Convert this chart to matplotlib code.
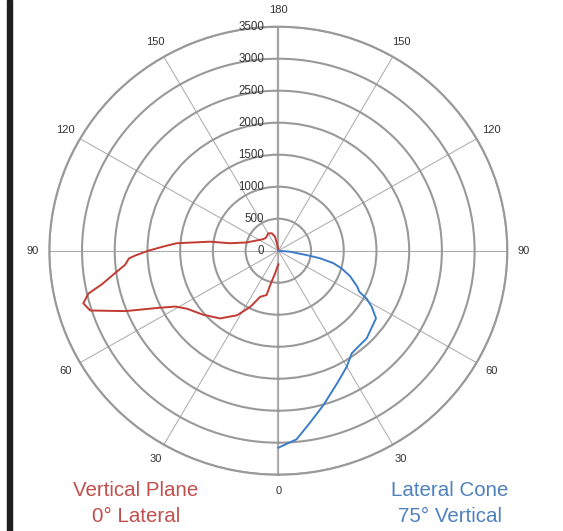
import numpy as np
import matplotlib.pyplot as plt
from matplotlib.patches import Rectangle

plt.rcParams['font.family'] = ['Liberation Sans', 'DejaVu Sans']

# Vertical Plane (0° Lateral), drawn on the left half
red_ang = [0, 8, 13, 14.5, 21, 26, 32, 37, 40, 49, 57, 61, 64, 68, 72, 74.6,
           77, 79, 82, 84.6, 87, 88, 90, 92.4, 94.3, 97.7, 99, 105, 128, 137,
           150, 160, 167, 172, 180]
red_val = [212, 357, 551, 715, 771, 976, 1189, 1298, 1382, 1524, 1664, 1800,
           2036, 2519, 3023, 3092, 2979, 2747, 2521, 2353, 2285, 2191, 1987,
           1733, 1557, 1054, 747, 500, 293, 277, 312, 290, 224, 70, 0]

# Lateral Cone (75° Vertical), drawn on the right half
blue_ang = [90, 85, 81, 79.5, 77, 74, 70, 65, 62.6, 61, 58.5, 54.7, 44.6, 39,
            35, 30, 24, 16, 10, 5.4, 0]
blue_val = [0, 180, 439, 648, 863, 1007, 1169, 1332, 1394, 1542, 1674, 1829,
            1923, 1935, 1957, 2092, 2243, 2507, 2740, 2960, 3078]

r_ticks = [0, 500, 1000, 1500, 2000, 2500, 3000, 3500]
theta_ticks = list(range(0, 360, 30))
theta_labels = ['0', '30', '60', '90', '120', '150', '180',
                '150', '120', '90', '60', '30']

red_line = '#C23B33'
blue_line = '#3D7CC9'
red_text = '#C0504D'
blue_text = '#4F81BD'

fig = plt.figure(figsize=(5.63, 5.31), dpi=100)
ax = fig.add_axes([0.0876, 0.106, 0.8135, 0.8437], projection='polar')
ax.set_aspect('auto')
ax.set_theta_zero_location('S')
ax.set_theta_direction(1)
ax.set_ylim(0, 3500)

ax.set_xticks(np.radians(theta_ticks))
ax.set_xticklabels(theta_labels, fontsize=8, color='#333333')
ax.tick_params(axis='x', pad=1.5)
ax.set_yticks(r_ticks)
ax.set_yticklabels([])

ax.xaxis.grid(True, color='#a8a8a8', lw=0.7)
ax.yaxis.grid(True, color='#999999', lw=1.5)
ax.spines['polar'].set_color('#999999')
ax.spines['polar'].set_linewidth(1.5)

# thicker vertical axis line 0-180
ax.plot([0, 0], [0, 3500], color='#b4b4b4', lw=1.6, zorder=1)
ax.plot([np.pi, np.pi], [0, 3500], color='#a0a0a0', lw=1.6, zorder=1)

for r in r_ticks:
    ax.annotate(str(r), xy=(np.pi, r), xytext=(-10, 0),
                textcoords='offset points', ha='right', va='center',
                fontsize=8.3, color='#333333', annotation_clip=False)

ax.plot(-np.radians(red_ang), red_val, color=red_line, lw=1.4, zorder=3)
ax.plot(np.radians(blue_ang), blue_val, color=blue_line, lw=1.4, zorder=3)

fig.text(136 / 563, 1 - 490 / 531, 'Vertical Plane', color=red_text,
         fontsize=14.8, ha='center', va='center')
fig.text(136 / 563, 1 - 517 / 531, '0° Lateral', color=red_text,
         fontsize=14.8, ha='center', va='center')
fig.text(450 / 563, 1 - 490 / 531, 'Lateral Cone', color=blue_text,
         fontsize=14.8, ha='center', va='center')
fig.text(450 / 563, 1 - 517 / 531, '75° Vertical', color=blue_text,
         fontsize=14.8, ha='center', va='center')

fig.patches.append(Rectangle((7 / 563, 0), 5 / 563, 1, transform=fig.transFigure,
                             color='#1e1e1e', zorder=5))

fig.savefig('out.png', dpi=100)
